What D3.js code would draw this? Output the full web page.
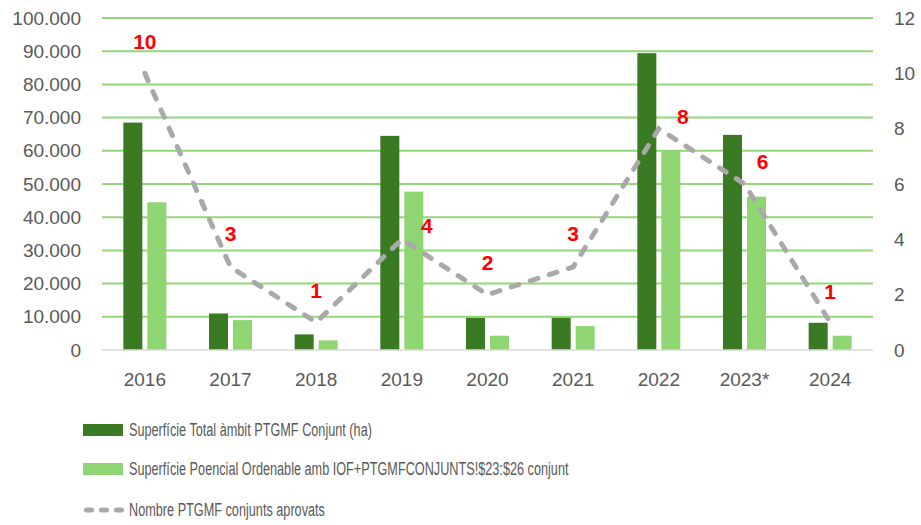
<!DOCTYPE html>
<html>
<head>
<meta charset="utf-8">
<script src="https://cdn.jsdelivr.net/npm/d3@7"></script>
<style>
  body { margin: 0; background: #fff; }
  svg { display: block; }
</style>
</head>
<body>
<svg id="chart" width="921" height="525"></svg>
<script>
// Chart values
var years = ["2016", "2017", "2018", "2019", "2020", "2021", "2022", "2023*", "2024"];
var total_area = [68500, 11000, 4700, 64500, 9700, 9700, 89400, 64800, 8200];
var ordenable_area = [44500, 9000, 2900, 47700, 4300, 7200, 60000, 46200, 4300];
var approved_count = [10, 3, 1, 4, 2, 3, 8, 6, 1];
var left_ticks = [0, 10000, 20000, 30000, 40000, 50000, 60000, 70000, 80000, 90000, 100000];
var right_ticks = [0, 2, 4, 6, 8, 10, 12];
var legend_labels = [
    "Superfície Total àmbit PTGMF Conjunt (ha)",
    "Superfície Poencial Ordenable amb IOF+PTGMFCONJUNTS!$23:$26 conjunt",
    "Nombre PTGMF conjunts aprovats"
];

// Where each red label sits relative to its point (pixels)
var label_shift = [[0, -32], [0, -33], [0, -32], [25, -14], [0, -32], [0, -33], [24, -12], [18, -22], [0, -31]];

var svg = d3.select("#chart");
var plot = { left: 102, right: 873, top: 18, bottom: 350 };

var x = d3.scaleBand().domain(years).range([plot.left, plot.right]);
var y_left = d3.scaleLinear().domain([0, 100000]).range([plot.bottom, plot.top]);
var y_right = d3.scaleLinear().domain([0, 12]).range([plot.bottom, plot.top]);
var cx = function (i) { return x(years[i]) + x.bandwidth() / 2; };

var fmt = function (v) {
    return v === 0 ? "0" : d3.format(",")(v).replace(/,/g, ".");
};

// Gridlines
svg.append("g").selectAll("line")
    .data(left_ticks.slice(1))
  .enter().append("line")
    .attr("x1", plot.left).attr("x2", plot.right)
    .attr("y1", function (d) { return y_left(d); })
    .attr("y2", function (d) { return y_left(d); })
    .attr("stroke", "#92d77a")
    .attr("stroke-width", 2);

// Left axis
var ax_left = svg.append("g")
    .attr("transform", "translate(81,0)")
    .call(d3.axisLeft(y_left).tickValues(left_ticks).tickFormat(fmt).tickSize(0).tickPadding(0));
ax_left.select(".domain").remove();

// Right axis
var ax_right = svg.append("g")
    .attr("transform", "translate(894,0)")
    .call(d3.axisRight(y_right).tickValues(right_ticks).tickSize(0).tickPadding(0));
ax_right.select(".domain").remove();

// Bottom axis
var ax_bottom = svg.append("g")
    .attr("transform", "translate(0," + plot.bottom + ")")
    .call(d3.axisBottom(x).tickSize(0).tickPadding(23));
ax_bottom.select(".domain").remove();

svg.selectAll(".tick text")
    .attr("font-family", "Liberation Sans, Arial, sans-serif")
    .attr("font-size", 19)
    .attr("fill", "#595959");

// Bars
var bar_w = 19, gap = 5;
svg.append("g").selectAll("rect")
    .data(years)
  .enter().append("rect")
    .attr("x", function (d, i) { return cx(i) - gap / 2 - bar_w; })
    .attr("y", function (d, i) { return y_left(total_area[i]); })
    .attr("width", bar_w)
    .attr("height", function (d, i) { return plot.bottom - y_left(total_area[i]); })
    .attr("fill", "#3a7a23");

svg.append("g").selectAll("rect")
    .data(years)
  .enter().append("rect")
    .attr("x", function (d, i) { return cx(i) + gap / 2; })
    .attr("y", function (d, i) { return y_left(ordenable_area[i]); })
    .attr("width", bar_w)
    .attr("height", function (d, i) { return plot.bottom - y_left(ordenable_area[i]); })
    .attr("fill", "#8fd672");

// Baseline
svg.append("line")
    .attr("x1", plot.left).attr("x2", plot.right)
    .attr("y1", plot.bottom).attr("y2", plot.bottom)
    .attr("stroke", "#d9d9d9")
    .attr("stroke-width", 1.5);

// Dashed count line
var line = d3.line()
    .x(function (d, i) { return cx(i); })
    .y(function (d) { return y_right(d); });

svg.append("path")
    .datum(approved_count)
    .attr("d", line)
    .attr("fill", "none")
    .attr("stroke", "#a9a9a9")
    .attr("stroke-width", 5)
    .attr("stroke-linecap", "round")
    .attr("stroke-dasharray", "8,12");

// Red count labels
svg.append("g").selectAll("text")
    .data(approved_count)
  .enter().append("text")
    .attr("x", function (d, i) { return cx(i) + label_shift[i][0]; })
    .attr("y", function (d, i) { return y_right(d) + label_shift[i][1]; })
    .attr("dy", "0.35em")
    .attr("text-anchor", "middle")
    .attr("font-family", "Liberation Sans, Arial, sans-serif")
    .attr("font-weight", "bold")
    .attr("font-size", 21)
    .attr("fill", "#ff0000")
    .text(function (d) { return d; });

// Legend
var legend = svg.append("g")
    .attr("font-family", "Liberation Sans, Arial, sans-serif")
    .attr("font-size", 18)
    .attr("fill", "#595959");

var leg_y = [430, 469, 510];
legend.append("rect")
    .attr("x", 83).attr("y", leg_y[0] - 6).attr("width", 40).attr("height", 12)
    .attr("fill", "#3a7a23");
legend.append("rect")
    .attr("x", 83).attr("y", leg_y[1] - 6).attr("width", 40).attr("height", 12)
    .attr("fill", "#8fd672");
legend.append("line")
    .attr("x1", 86.5).attr("x2", 122)
    .attr("y1", leg_y[2]).attr("y2", leg_y[2])
    .attr("stroke", "#a9a9a9")
    .attr("stroke-width", 5)
    .attr("stroke-linecap", "round")
    .attr("stroke-dasharray", "5,10");

// The reference uses a narrow face, so squeeze the text horizontally
legend.selectAll("text")
    .data(legend_labels)
  .enter().append("text")
    .attr("transform", function (d, i) { return "translate(129," + leg_y[i] + ") scale(0.705,1)"; })
    .attr("dy", "0.35em")
    .text(function (d) { return d; });
</script>
</body>
</html>
